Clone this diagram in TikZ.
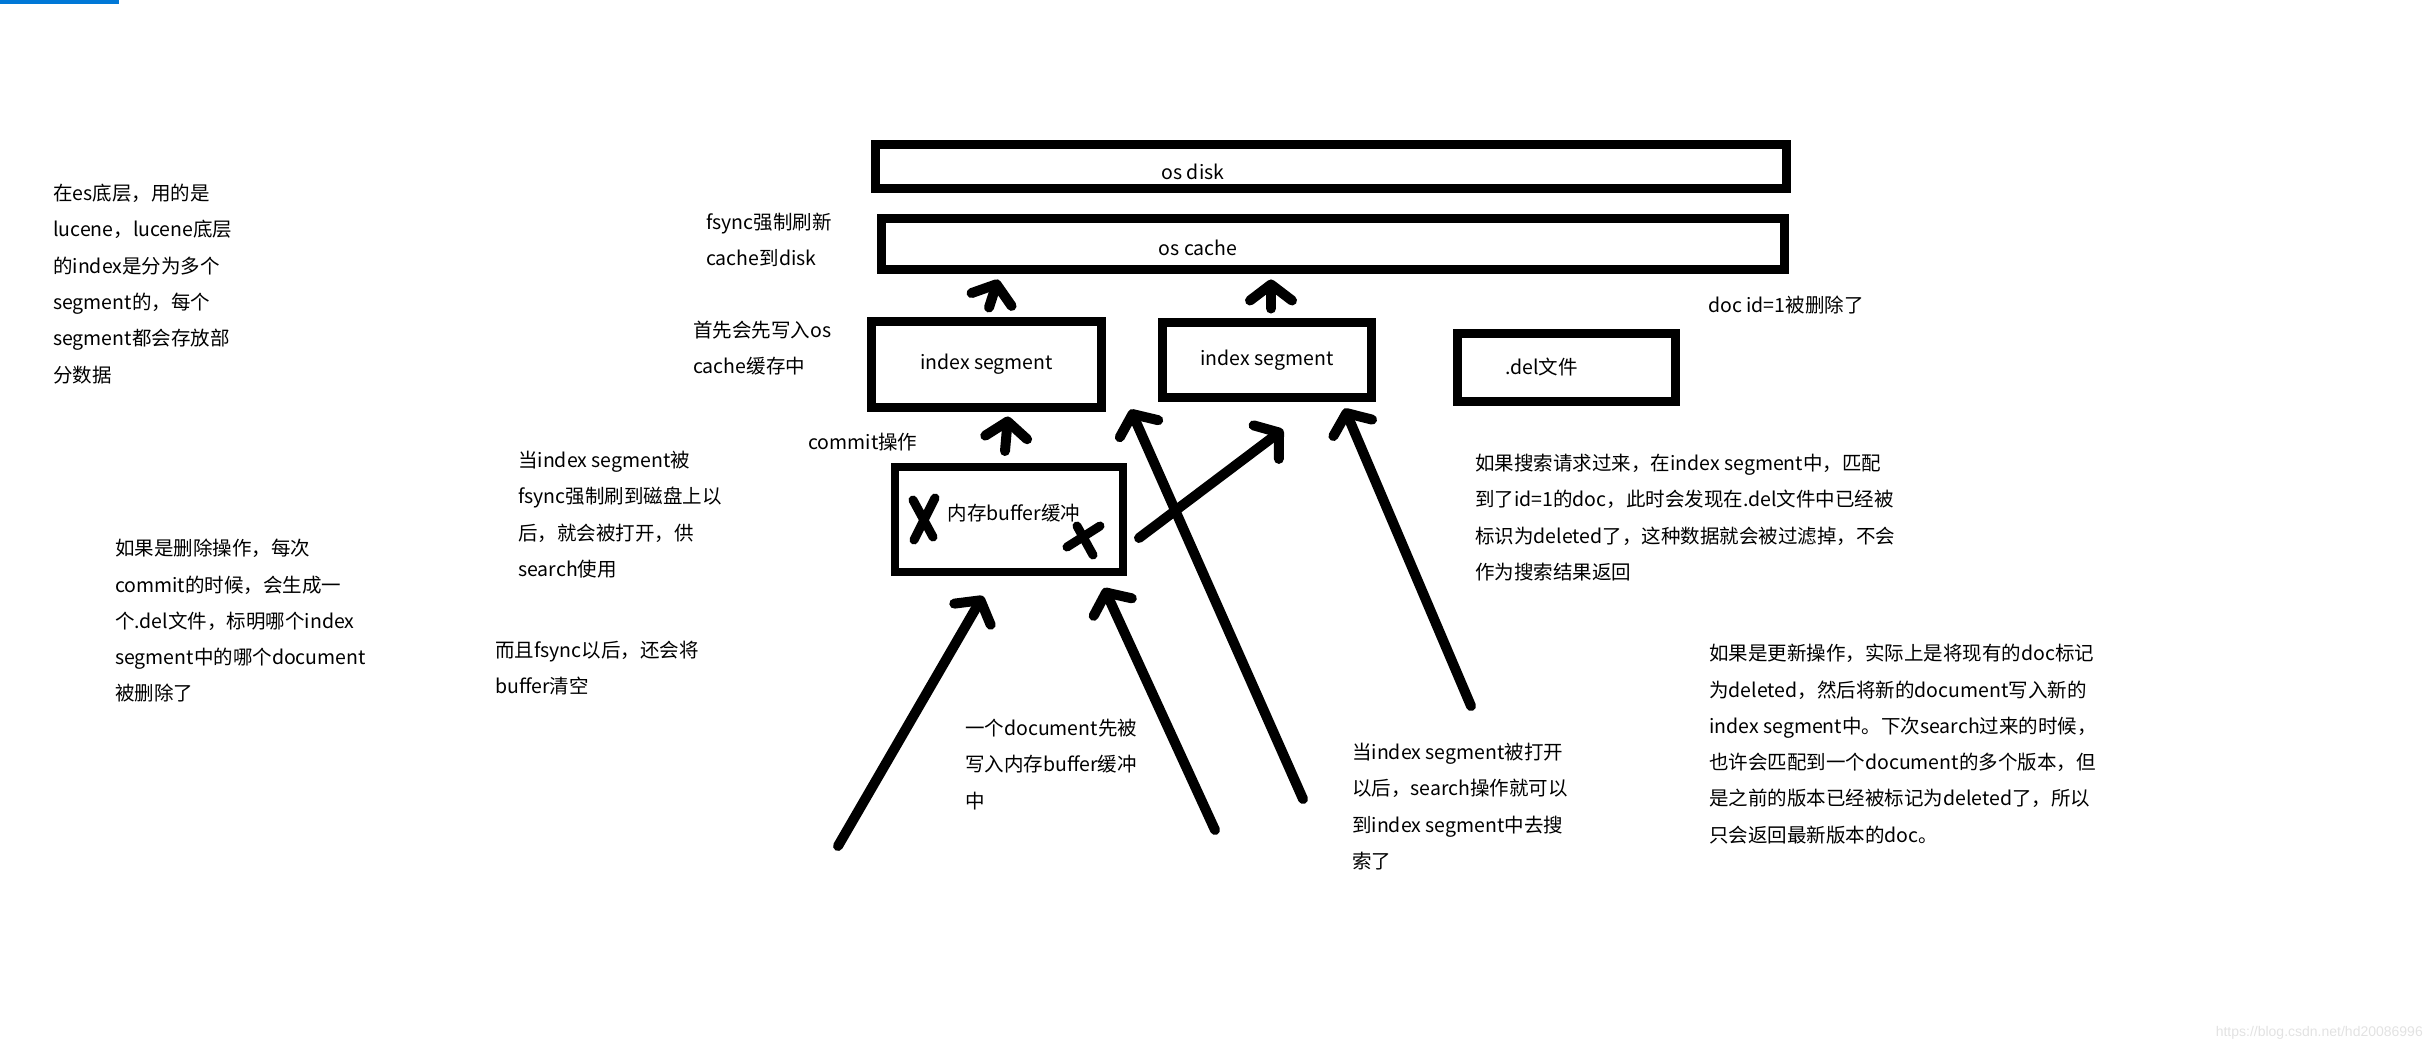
\documentclass[tikz,border=0pt]{standalone}
\usepackage{fontspec}
\setmainfont{Noto Sans CJK SC}
\newfontfamily\urlfont{Liberation Sans}
\usetikzlibrary{arrows.meta,calc}
\definecolor{barblue}{HTML}{0078D7}
\definecolor{markgray}{HTML}{E2E2E2}

\begin{document}
\begin{tikzpicture}[x=1pt,y=-1pt,
  box/.style={draw,line width=9pt,inner sep=0pt},
  txt/.style={font=\fontsize{19.5}{36.3}\selectfont,inner sep=0pt},
  note/.style={txt,align=left,anchor=north west},
  pen/.style={line width=10pt,line cap=round,line join=round},
  arr/.style={pen,-{Straight Barb[length=16pt,width=42pt,round]}}]
\useasboundingbox (0,0) rectangle (2433,1052);
\fill[barblue] (0,0) rectangle (119,4);

\node[box,minimum width=911pt,minimum height=44pt] (disk) at (1331,166.5) {};
\node[txt] (disklbl) at (1193,172) {os disk};

\node[box,minimum width=903pt,minimum height=51pt] (cache) at (1333,244) {};
\node[txt] (cachelbl) at (1198,248) {os cache};

\node[box,txt,minimum width=230pt,minimum height=86pt] (seg1) at (986.5,364.5) {index segment};
\node[box,txt,minimum width=209pt,minimum height=75pt] (seg2) at (1267,360) {index segment};

\node[box,minimum width=218pt,minimum height=68pt] (del) at (1566.5,367.5) {};
\node[txt,anchor=west] (dellbl) at (1505,367) {.del文件};

\node[box,line width=8pt,minimum width=228pt,minimum height=105pt] (buf) at (1009,519.5) {};
\node[txt] (buflbl) at (1014,513) {内存buffer缓冲};

\draw[pen,line width=9pt] (913,500) -- (933,537) (935,498) -- (914,540);
\draw[pen,line width=9pt] (1067,547) -- (1100,526) (1077,526) -- (1093,555);

\node[note] (esnote) at (53,184) {在es底层，用的是\\lucene，lucene底层\\的index是分为多个\\segment的，每个\\segment都会存放部\\分数据};
\node[note] (delnote) at (115,539) {如果是删除操作，每次\\commit的时候，会生成一\\个.del文件，标明哪个index\\segment中的哪个document\\被删除了};
\node[note] (fsyncnote) at (706,213) {fsync强制刷新\\cache到disk};
\node[note] (cachenote) at (693,321) {首先会先写入os\\cache缓存中};
\node[note] (opennote) at (518,451) {当index segment被\\fsync强制刷到磁盘上以\\后，就会被打开，供\\search使用};
\node[note] (clearnote) at (495,641) {而且fsync以后，还会将\\buffer清空};
\node[note] (commitnote) at (808,433) {commit操作};
\node[note] (docnote) at (965,719) {一个document先被\\写入内存buffer缓冲\\中};
\node[note] (searchnote) at (1352,743) {当index segment被打开\\以后，search操作就可以\\到index segment中去搜\\索了};
\node[note] (idnote) at (1708,296) {doc id=1被删除了};
\node[note] (filternote) at (1475,454) {如果搜索请求过来，在index segment中，匹配\\到了id=1的doc，此时会发现在.del文件中已经被\\标识为deleted了，这种数据就会被过滤掉，不会\\作为搜索结果返回};
\node[note] (updatenote) at (1709,644) {如果是更新操作，实际上是将现有的doc标记\\为deleted，然后将新的document写入新的\\index segment中。下次search过来的时候，\\也许会匹配到一个document的多个版本，但\\是之前的版本已经被标记为deleted了，所以\\只会返回最新版本的doc。};

\node[anchor=east,inner sep=0pt,text=markgray,font=\urlfont\fontsize{14}{16}\selectfont] (mark) at (2423,1033) {https://blog.csdn.net/hd20086996};

\coordinate (doc1) at (838,846);
\coordinate (doc2) at (1215,830);
\coordinate (srch1) at (1303,799);
\coordinate (srch2) at (1471,706);

\draw[arr] ($(seg1.north)+(2.5,-9.5)$) -- ($(seg1.north |- cache.south)+(11.5,5.5)$);
\draw[arr] ($(seg2.north)+(4,-9.5)$) -- ($(seg2.north |- cache.south)+(4,5.5)$);
\draw[arr] ($(buf.north)+(-4,-12)$) -- ($(buf.north |- seg1.south)+(-1,4.5)$);
\draw[arr] ($(buf.east)+(12,18.5)$) -- ($(seg2.south)+(16,27.5)$);
\draw[arr] (srch1) -- ($(seg2.south west)+(-27.5,7.5)$);
\draw[arr] (srch2) -- ($(seg2.south east)+(-31.5,6.5)$);
\draw[arr] (doc1) -- ($(buf.south)+(-26,20)$);
\draw[arr] (doc2) -- ($(buf.south east)+(-23,12)$);
\end{tikzpicture}
\end{document}
